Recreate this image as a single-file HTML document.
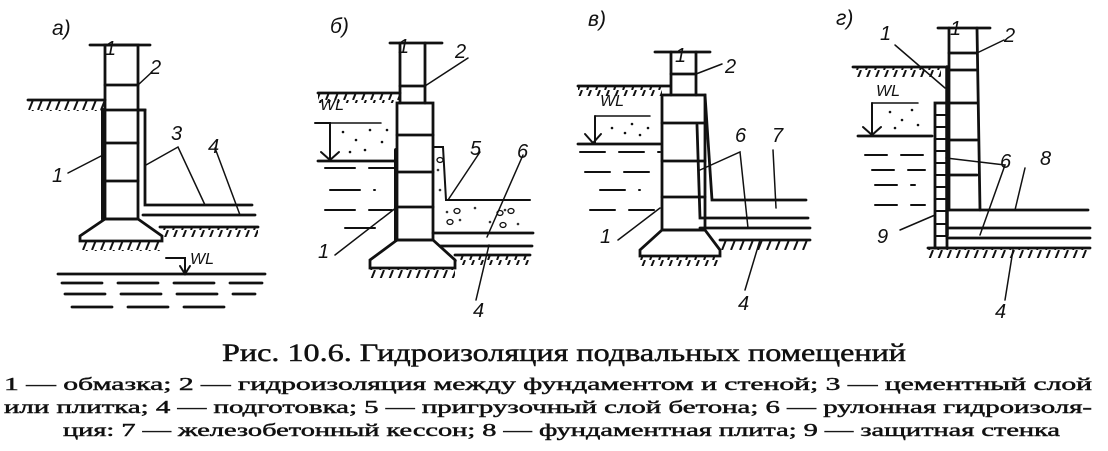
<!DOCTYPE html>
<html><head><meta charset="utf-8"><style>
html,body{margin:0;padding:0;background:#fff;}
svg{display:block}
text{font-family:"Liberation Serif",serif;fill:#111}
.cap{stroke:#111;stroke-width:0.45}
.it{font-style:italic;font-family:"Liberation Sans",sans-serif}
</style></head><body>
<svg width="1108" height="451" viewBox="0 0 1108 451" xmlns="http://www.w3.org/2000/svg">
<defs>
<pattern id="h" width="9" height="10" patternUnits="userSpaceOnUse"><line x1="2" y1="10" x2="6" y2="0" stroke="#111" stroke-width="2"/></pattern>
</defs>
<g stroke="#111" fill="none" stroke-width="2.8" stroke-linecap="round">
<!-- Panel a -->
<line x1="90" y1="45" x2="150" y2="45"/>
<rect x="105" y="45" width="33" height="174"/>
<line x1="105" y1="85" x2="138" y2="85"/><line x1="105" y1="143" x2="138" y2="143"/><line x1="105" y1="181" x2="138" y2="181"/>
<line x1="102" y1="110" x2="145" y2="110"/>
<line x1="103" y1="110" x2="103" y2="219" stroke-width="4"/>
<polyline points="138,110 145,110 145,205 252,205"/>
<line x1="143" y1="215" x2="255" y2="215"/>
<line x1="160" y1="227" x2="258" y2="227"/>
<polygon points="105,219 138,219 162,236 162,241 80,241 80,236"/>
<line x1="28" y1="100" x2="105" y2="100"/>
<rect x="28" y="101" width="77" height="10" fill="url(#h)" stroke="none"/>
<rect x="80" y="242" width="80" height="9" fill="url(#h)" stroke="none"/>
<rect x="162" y="228" width="96" height="9" fill="url(#h)" stroke="none"/>
<polyline points="166,258 185,258 185,274" stroke-width="2"/>
<path d="M180,266 L185,274 L190,266" stroke-width="2"/>
<line x1="58" y1="274" x2="265" y2="274"/>
<g stroke-dasharray="40 16"><line x1="62" y1="283" x2="262" y2="283"/><line x1="65" y1="294" x2="255" y2="294"/><line x1="72" y1="307" x2="230" y2="307"/></g>
<line x1="68" y1="173" x2="103" y2="155" stroke-width="1.5"/>
<polyline points="146,165 178,147 205,205" stroke-width="1.5"/>
<line x1="215" y1="148" x2="240" y2="215" stroke-width="1.5"/>
<line x1="138" y1="85" x2="152" y2="72" stroke-width="1.5"/>
<!-- Panel b -->
<line x1="390" y1="43" x2="442" y2="43"/>
<line x1="400" y1="43" x2="400" y2="103"/><line x1="425" y1="43" x2="425" y2="103"/>
<line x1="400" y1="86" x2="425" y2="86"/>
<rect x="397" y="103" width="36" height="137"/>
<line x1="397" y1="135" x2="433" y2="135"/><line x1="397" y1="172" x2="433" y2="172"/><line x1="397" y1="207" x2="433" y2="207"/>
<line x1="396" y1="150" x2="396" y2="240" stroke-width="4"/>
<polygon points="397,240 433,240 455,260 455,268 370,268 370,260"/>
<line x1="318" y1="93" x2="400" y2="93"/>
<rect x="318" y="94" width="82" height="9" fill="url(#h)" stroke="none"/>
<polyline points="315,123 330,123 330,160" stroke-width="2"/>
<line x1="330" y1="123" x2="381" y2="123" stroke-width="1.5"/>
<path d="M321,152 L330,160 L339,152" stroke-width="2"/>
<line x1="318" y1="161" x2="395" y2="161"/>
<g stroke-dasharray="30 14" stroke-width="2"><line x1="325" y1="168" x2="395" y2="168"/><line x1="330" y1="190" x2="375" y2="190"/><line x1="325" y1="210" x2="392" y2="210"/><line x1="345" y1="228" x2="382" y2="228"/></g>
<g fill="#111" stroke="none"><circle cx="343" cy="132" r="1.3"/><circle cx="356" cy="140" r="1.3"/><circle cx="370" cy="130" r="1.3"/><circle cx="365" cy="150" r="1.3"/><circle cx="382" cy="142" r="1.3"/><circle cx="350" cy="152" r="1.3"/><circle cx="387" cy="130" r="1.3"/></g>
<polyline points="433,147 443,147 446,200 530,200" stroke-width="2"/>
<line x1="433" y1="233" x2="533" y2="233"/>
<g fill="#333" stroke="none"><circle cx="447" cy="212" r="1.3"/><circle cx="460" cy="220" r="1.3"/><circle cx="475" cy="208" r="1.3"/><circle cx="490" cy="222" r="1.3"/><circle cx="505" cy="210" r="1.3"/><circle cx="518" cy="224" r="1.3"/><circle cx="438" cy="170" r="1.3"/><circle cx="440" cy="190" r="1.3"/></g>
<g stroke-width="1.3"><ellipse cx="457" cy="211" rx="3" ry="2.5"/><ellipse cx="450" cy="222" rx="3" ry="2.5"/><ellipse cx="500" cy="213" rx="3" ry="2.5"/><ellipse cx="511" cy="211" rx="3" ry="2.5"/><ellipse cx="503" cy="225" rx="3" ry="2.5"/><ellipse cx="440" cy="160" rx="3" ry="2.5"/></g>
<line x1="440" y1="246" x2="532" y2="246"/>
<line x1="455" y1="255" x2="530" y2="255"/>
<rect x="455" y="256" width="75" height="9" fill="url(#h)" stroke="none"/>
<rect x="370" y="269" width="85" height="9" fill="url(#h)" stroke="none"/>
<line x1="335" y1="255" x2="397" y2="207" stroke-width="1.5"/>
<line x1="425" y1="86" x2="468" y2="58" stroke-width="1.5"/>
<line x1="448" y1="200" x2="480" y2="152" stroke-width="1.5"/>
<line x1="487" y1="237" x2="523" y2="155" stroke-width="1.5"/>
<line x1="476" y1="300" x2="489" y2="245" stroke-width="1.5"/>
<!-- Panel v -->
<line x1="655" y1="52" x2="710" y2="52"/>
<line x1="671" y1="52" x2="671" y2="95"/><line x1="696" y1="52" x2="696" y2="95"/>
<line x1="671" y1="74" x2="696" y2="74"/>
<rect x="662" y="95" width="43" height="135"/>
<line x1="662" y1="123" x2="705" y2="123"/><line x1="662" y1="161" x2="705" y2="161"/><line x1="662" y1="197" x2="705" y2="197"/>
<polyline points="705,95 712,200 806,200"/>
<polyline points="697,125 700,218 808,218"/>
<line x1="700" y1="228" x2="810" y2="228"/>
<polygon points="662,230 705,230 720,250 720,256 640,256 640,250"/>
<line x1="720" y1="240" x2="810" y2="240"/>
<rect x="720" y="241" width="88" height="9" fill="url(#h)" stroke="none"/>
<rect x="640" y="257" width="80" height="9" fill="url(#h)" stroke="none"/>
<line x1="578" y1="86" x2="670" y2="86"/>
<rect x="578" y="87" width="84" height="9" fill="url(#h)" stroke="none"/>
<polyline points="595,116 595,143" stroke-width="2"/>
<line x1="595" y1="116" x2="650" y2="116" stroke-width="1.5"/>
<path d="M585,134 L593,143 L601,134" stroke-width="2"/>
<line x1="578" y1="144" x2="660" y2="144"/>
<g stroke-dasharray="25 14" stroke-width="2"><line x1="580" y1="152" x2="660" y2="152"/><line x1="585" y1="172" x2="655" y2="172"/><line x1="600" y1="190" x2="640" y2="190"/><line x1="590" y1="210" x2="655" y2="210"/></g>
<g fill="#111" stroke="none"><circle cx="612" cy="128" r="1.3"/><circle cx="625" cy="133" r="1.3"/><circle cx="632" cy="124" r="1.3"/><circle cx="640" cy="135" r="1.3"/><circle cx="648" cy="128" r="1.3"/></g>
<line x1="618" y1="240" x2="660" y2="208" stroke-width="1.5"/>
<line x1="696" y1="74" x2="722" y2="64" stroke-width="1.5"/>
<polyline points="700,170 740,152 748,228" stroke-width="1.5"/>
<line x1="773" y1="150" x2="776" y2="208" stroke-width="1.5"/>
<line x1="745" y1="290" x2="760" y2="240" stroke-width="1.5"/>
<!-- Panel g -->
<line x1="938" y1="28" x2="990" y2="28"/>
<line x1="949" y1="28" x2="949" y2="210"/><line x1="977" y1="28" x2="980" y2="210"/>
<line x1="949" y1="53" x2="977" y2="53"/><line x1="949" y1="70" x2="977" y2="70"/><line x1="949" y1="103" x2="977" y2="103"/><line x1="949" y1="140" x2="977" y2="140"/><line x1="949" y1="175" x2="977" y2="175"/>
<line x1="947" y1="67" x2="947" y2="235" stroke-width="3.5"/>
<line x1="853" y1="67" x2="945" y2="67"/>
<rect x="853" y="68" width="88" height="9" fill="url(#h)" stroke="none"/>
<rect x="935" y="103" width="12" height="145"/>
<g stroke-width="2"><line x1="935" y1="115" x2="947" y2="115"/><line x1="935" y1="127" x2="947" y2="127"/><line x1="935" y1="139" x2="947" y2="139"/><line x1="935" y1="151" x2="947" y2="151"/><line x1="935" y1="163" x2="947" y2="163"/><line x1="935" y1="175" x2="947" y2="175"/><line x1="935" y1="187" x2="947" y2="187"/><line x1="935" y1="199" x2="947" y2="199"/><line x1="935" y1="211" x2="947" y2="211"/><line x1="935" y1="224" x2="947" y2="224"/><line x1="935" y1="236" x2="947" y2="236"/></g>
<line x1="947" y1="210" x2="1088" y2="210"/>
<line x1="947" y1="228" x2="1090" y2="228"/>
<line x1="947" y1="238" x2="1090" y2="238"/>
<line x1="928" y1="248" x2="1090" y2="248"/>
<rect x="928" y="249" width="162" height="9" fill="url(#h)" stroke="none"/>
<polyline points="872,103 872,135" stroke-width="2"/>
<line x1="872" y1="103" x2="918" y2="103" stroke-width="1.5"/>
<path d="M863,127 L872,135 L881,127" stroke-width="2"/>
<line x1="858" y1="136" x2="932" y2="136"/>
<g stroke-dasharray="22 14" stroke-width="2"><line x1="865" y1="155" x2="930" y2="155"/><line x1="872" y1="170" x2="925" y2="170"/><line x1="875" y1="185" x2="915" y2="185"/><line x1="875" y1="205" x2="925" y2="205"/></g>
<g fill="#111" stroke="none"><circle cx="890" cy="112" r="1.3"/><circle cx="902" cy="120" r="1.3"/><circle cx="912" cy="110" r="1.3"/><circle cx="918" cy="125" r="1.3"/><circle cx="895" cy="128" r="1.3"/></g>
<line x1="895" y1="45" x2="945" y2="88" stroke-width="1.5"/>
<line x1="977" y1="53" x2="1004" y2="40" stroke-width="1.5"/>
<polyline points="946,158 1005,165 980,235" stroke-width="1.5"/>
<line x1="1025" y1="168" x2="1015" y2="210" stroke-width="1.5"/>
<line x1="900" y1="230" x2="935" y2="215" stroke-width="1.5"/>
<line x1="1005" y1="300" x2="1013" y2="250" stroke-width="1.5"/>
</g>
<g class="it" font-size="21">
<text x="52" y="35" class="it">а)</text>
<text x="330" y="33" class="it">б)</text>
<text x="588" y="26" class="it">в)</text>
<text x="836" y="25" class="it">г)</text>
</g>
<g class="it" font-size="20">
<text x="105" y="55" class="it">1</text><text x="398" y="53" class="it">1</text><text x="675" y="62" class="it">1</text><text x="950" y="35" class="it">1</text>
<text x="150" y="74" class="it">2</text><text x="455" y="58" class="it">2</text><text x="725" y="73" class="it">2</text><text x="1004" y="42" class="it">2</text>
<text x="52" y="182" class="it">1</text><text x="171" y="140" class="it">3</text><text x="208" y="153" class="it">4</text>
<text x="190" y="264" class="it" font-size="16">WL</text>
<text x="320" y="110" class="it" font-size="16">WL</text>
<text x="318" y="258" class="it">1</text><text x="470" y="155" class="it">5</text><text x="517" y="158" class="it">6</text><text x="473" y="317" class="it">4</text>
<text x="600" y="106" class="it" font-size="16">WL</text>
<text x="600" y="243" class="it">1</text><text x="735" y="142" class="it">6</text><text x="772" y="142" class="it">7</text><text x="738" y="310" class="it">4</text>
<text x="876" y="96" class="it" font-size="16">WL</text>
<text x="880" y="40" class="it">1</text><text x="1000" y="168" class="it">6</text><text x="1040" y="165" class="it">8</text><text x="877" y="243" class="it">9</text><text x="995" y="318" class="it">4</text>
</g>
<text class="cap" x="222" y="361" font-size="25" textLength="684" lengthAdjust="spacingAndGlyphs">Рис. 10.6. Гидроизоляция подвальных помещений</text>
<g font-size="18" class="cap">
<text class="cap" x="4" y="390" textLength="1088" lengthAdjust="spacingAndGlyphs">1 — обмазка;  2 — гидроизоляция  между  фундаментом  и  стеной;  3 — цементный  слой</text>
<text class="cap" x="4" y="413" textLength="1088" lengthAdjust="spacingAndGlyphs">или  плитка;  4 — подготовка;  5 — пригрузочный  слой  бетона;  6 — рулонная  гидроизоля-</text>
<text class="cap" x="63" y="436" textLength="997" lengthAdjust="spacingAndGlyphs">ция:  7 — железобетонный  кессон;  8 — фундаментная  плита;  9 — защитная  стенка</text>
</g>
</svg>
</body></html>
